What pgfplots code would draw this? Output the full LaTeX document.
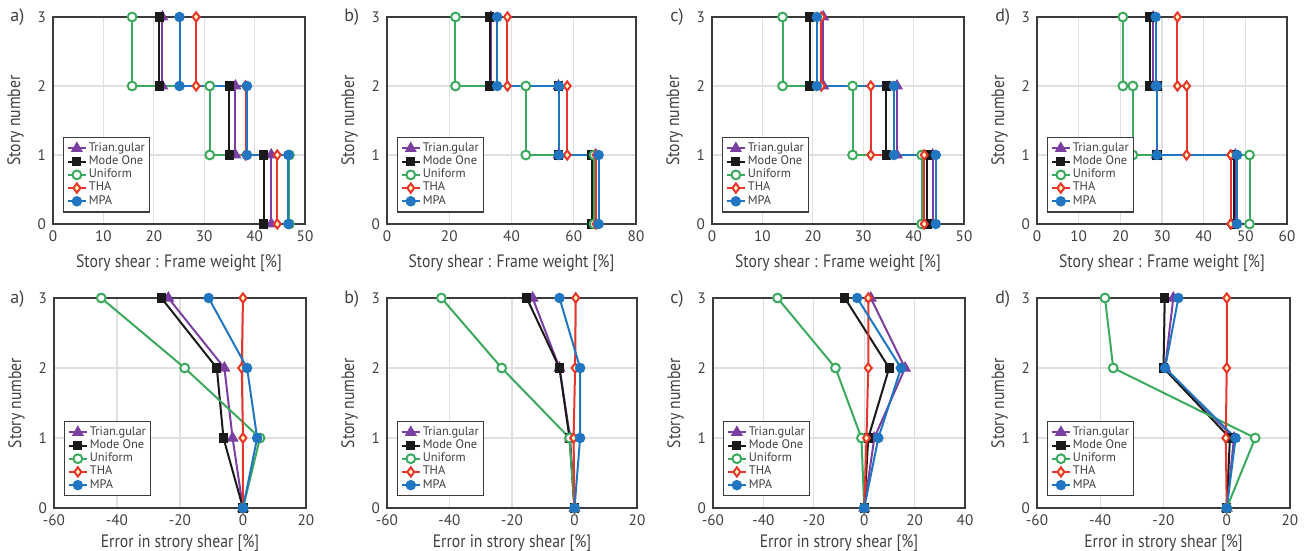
\documentclass[border=0pt]{standalone}
\usepackage{pgfplots}
\pgfplotsset{compat=1.18}
\usepackage{fontspec}
\setmainfont{PT Sans}
\newfontfamily\labfont{PT Sans}[FakeStretch=0.87]
\definecolor{cTri}{HTML}{7A3FA0}
\definecolor{cMode}{HTML}{1A1A1A}
\definecolor{cUni}{HTML}{3BAA5C}
\definecolor{cTHA}{HTML}{E8352B}
\definecolor{cMPA}{HTML}{2176C1}
\definecolor{cFrame}{HTML}{3C3C3C}
\definecolor{cText}{HTML}{404040}
\pgfplotsset{
  panel/.style={
    scale only axis, clip=false, anchor=north west,
    ymin=0, ymax=3, ytick={0,1,2,3},
    grid=major, major grid style={black!12, line width=0.6pt},
    major tick length=0pt,
    axis line style={cFrame, line width=1pt},
    tick label style={font=\fontsize{7.6}{9}\selectfont, text=cText},
    /pgf/number format/assume math mode=true,
    ylabel={Story number},
    label style={font=\labfont\fontsize{9}{11}\selectfont, text=cText},
    legend style={at={(0.04,0.055)}, anchor=south west, draw=cFrame, line width=0.6pt,
      font=\fontsize{6.2}{7}\selectfont, row sep=-1.1pt, inner sep=1.5pt,
      nodes={inner sep=0.9pt, text=cText}},
    legend cell align=left,
    legend image code/.code={\draw[mark repeat=2,mark phase=2] plot coordinates {(0pt,0pt)(4.6pt,0pt)(9.2pt,0pt)};},
  },
  top/.style={panel, height=103.5pt, width=126pt, xlabel={Story shear : Frame weight [\%]}, xlabel style={yshift=0.5pt}},
  bot/.style={panel, height=105pt, width=126pt, xlabel={Error in strory shear [\%]}, xlabel style={yshift=2.5pt}},
  tri/.style={cTri, line width=1pt, mark=triangle*, mark size=2.5pt, mark options={fill=cTri, solid}},
  mode/.style={cMode, line width=1pt, mark=square*, mark size=1.8pt, mark options={fill=cMode, solid}},
  uni/.style={cUni, line width=1pt, mark=*, mark size=2.2pt, mark options={fill=white, solid}},
  tha/.style={cTHA, line width=1pt, mark=diamond*, mark size=2.3pt, mark options={fill=yellow!25, solid}},
  mpa/.style={cMPA, line width=1pt, mark=*, mark size=2.1pt, mark options={fill=cMPA, solid}},
}
\newcommand{\leg}{\legend{Trian.gular,Mode One,Uniform,THA,MPA}}
\begin{document}
\begin{tikzpicture}
\path[use as bounding box] (0,0) rectangle (655.5pt,-275.5pt);
% ---------- top a
\begin{axis}[top, at={(26.5pt,-8.5pt)}, xmin=0, xmax=50, xtick={0,10,...,50}]
\addplot[tri] coordinates {(21.7,3)(21.7,2)(36.2,2)(36.2,1)(43.3,1)(43.3,0)};
\addplot[mode] coordinates {(21.1,3)(21.1,2)(35.0,2)(35.0,1)(41.8,1)(41.8,0)};
\addplot[uni] coordinates {(15.7,3)(15.7,2)(31.1,2)(31.1,1)(46.9,1)(46.9,0)};
\addplot[tha] coordinates {(28.4,3)(28.4,2)(38.2,2)(38.2,1)(44.5,1)(44.5,0)};
\addplot[mpa] coordinates {(25.1,3)(25.1,2)(38.5,2)(38.5,1)(46.7,1)(46.7,0)};
\leg
\end{axis}
% ---------- top b
\begin{axis}[top, at={(193.5pt,-8.5pt)}, width=124.5pt, xmin=0, xmax=80, xtick={0,20,...,80}]
\addplot[tri] coordinates {(33.4,3)(33.4,2)(55.1,2)(55.1,1)(67.0,1)(67.0,0)};
\addplot[mode] coordinates {(33.0,3)(33.0,2)(55.1,2)(55.1,1)(65.8,1)(65.8,0)};
\addplot[uni] coordinates {(22.0,3)(22.0,2)(44.6,2)(44.6,1)(66.5,1)(66.5,0)};
\addplot[tha] coordinates {(38.7,3)(38.7,2)(57.9,2)(57.9,1)(67.2,1)(67.2,0)};
\addplot[mpa] coordinates {(35.4,3)(35.4,2)(55.2,2)(55.2,1)(68.0,1)(68.0,0)};
\leg
\end{axis}
% ---------- top c
\begin{axis}[top, at={(356pt,-8.5pt)}, xmin=0, xmax=50, xtick={0,10,...,50}]
\addplot[tri] coordinates {(22.1,3)(22.1,2)(36.7,2)(36.7,1)(43.8,1)(43.8,0)};
\addplot[mode] coordinates {(19.4,3)(19.4,2)(34.6,2)(34.6,1)(42.7,1)(42.7,0)};
\addplot[uni] coordinates {(14.0,3)(14.0,2)(27.9,2)(27.9,1)(41.6,1)(41.6,0)};
\addplot[tha] coordinates {(21.7,3)(21.7,2)(31.5,2)(31.5,1)(42.1,1)(42.1,0)};
\addplot[mpa] coordinates {(20.8,3)(20.8,2)(36.1,2)(36.1,1)(44.4,1)(44.4,0)};
\leg
\end{axis}
% ---------- top d
\begin{axis}[top, at={(518.5pt,-8.5pt)}, width=125pt, xmin=0, xmax=60, xtick={0,10,...,60}]
\addplot[tri] coordinates {(27.9,3)(27.9,2)(28.7,2)(28.7,1)(47.6,1)(47.6,0)};
\addplot[mode] coordinates {(27.1,3)(27.1,2)(28.8,2)(28.8,1)(47.3,1)(47.3,0)};
\addplot[uni] coordinates {(20.6,3)(20.6,2)(23.0,2)(23.0,1)(51.0,1)(51.0,0)};
\addplot[tha] coordinates {(33.7,3)(33.7,2)(35.9,2)(35.9,1)(46.5,1)(46.5,0)};
\addplot[mpa] coordinates {(28.5,3)(28.5,2)(28.8,2)(28.8,1)(48.0,1)(48.0,0)};
\leg
\end{axis}
% ---------- bottom a
\begin{axis}[bot, at={(27pt,-149pt)}, xmin=-60, xmax=20, xtick={-60,-40,...,20}]
\addplot[tri] coordinates {(0,0)(-3.3,1)(-5.9,2)(-23.7,3)};
\addplot[mode] coordinates {(0,0)(-6.2,1)(-8.3,2)(-25.9,3)};
\addplot[uni] coordinates {(0,0)(5.4,1)(-18.5,2)(-45.0,3)};
\addplot[tha] coordinates {(0,0)(0,1)(-0.4,2)(0,3)};
\addplot[mpa] coordinates {(0,0)(4.5,1)(1.3,2)(-10.9,3)};
\leg
\end{axis}
% ---------- bottom b
\begin{axis}[bot, at={(193.5pt,-149pt)}, width=125pt, xmin=-60, xmax=20, xtick={-60,-40,...,20}]
\addplot[tri] coordinates {(0,0)(-1.4,1)(-4.8,2)(-13.4,3)};
\addplot[mode] coordinates {(0,0)(-1.6,1)(-4.8,2)(-15.3,3)};
\addplot[uni] coordinates {(0,0)(-1.6,1)(-23.3,2)(-42.6,3)};
\addplot[tha] coordinates {(0,0)(-0.3,1)(0.2,2)(0.4,3)};
\addplot[mpa] coordinates {(0,0)(1.8,1)(1.8,2)(-4.8,3)};
\leg
\end{axis}
% ---------- bottom c
\begin{axis}[bot, at={(356.5pt,-149pt)}, xmin=-60, xmax=40, xtick={-60,-40,...,40}]
\addplot[tri] coordinates {(0,0)(4.0,1)(16.2,2)(2.6,3)};
\addplot[mode] coordinates {(0,0)(1.6,1)(9.9,2)(-7.7,3)};
\addplot[uni] coordinates {(0,0)(-1.1,1)(-11.4,2)(-34.4,3)};
\addplot[tha] coordinates {(0,0)(0.9,1)(1.6,2)(1.6,3)};
\addplot[mpa] coordinates {(0,0)(5.6,1)(14.6,2)(-2.8,3)};
\leg
\end{axis}
% ---------- bottom d
\begin{axis}[bot, at={(518.5pt,-149pt)}, width=126.5pt, xmin=-60, xmax=20, xtick={-60,-40,...,20}]
\addplot[tri] coordinates {(0,0)(2.3,1)(-19.5,2)(-16.9,3)};
\addplot[mode] coordinates {(0,0)(1.0,1)(-20.0,2)(-19.6,3)};
\addplot[uni] coordinates {(0,0)(9.0,1)(-35.9,2)(-38.5,3)};
\addplot[tha] coordinates {(0,0)(-0.3,1)(0,2)(0,3)};
\addplot[mpa] coordinates {(0,0)(2.8,1)(-19.5,2)(-15.3,3)};
\leg
\end{axis}
% panel letters
\foreach \lx/\ly/\lt in {5/-8.5/a), 172/-8.5/b), 335/-8.5/c), 497.5/-8.5/d), 5/-149.5/a), 172/-149.5/b), 335/-149.5/c), 497.5/-149.5/d)}{
  \node[anchor=west, inner sep=0pt, font=\fontsize{9}{10}\selectfont, text=cText] at (\lx pt,\ly pt) {\lt};
}
\end{tikzpicture}
\end{document}
